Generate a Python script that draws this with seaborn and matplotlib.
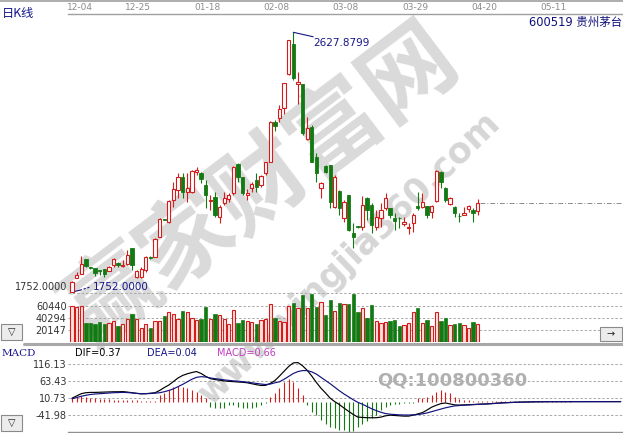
import numpy as np
import pandas as pd
import matplotlib
matplotlib.use("Agg")
import matplotlib.pyplot as plt
import seaborn as sns
from matplotlib.patches import Rectangle
from matplotlib.lines import Line2D

sns.set_theme(style="white")
plt.rcParams['font.family'] = ['DejaVu Sans', 'Noto Sans CJK SC']

# ---------------- data ----------------
opens = [1752, 1800, 1813, 1862, 1837, 1832, 1825, 1828, 1824, 1843,
         1849, 1840, 1846, 1899, 1804, 1801, 1826, 1871, 1871, 1938,
         1998, 1989, 2062, 2096, 2141, 2090, 2090, 2158, 2155, 2113,
         2059, 2071, 2006, 2051, 2065, 2085, 2184, 2139, 2080, 2102,
         2130, 2113, 2152, 2192, 2326, 2338, 2371, 2486, 2587, 2452,
         2452, 2268, 2310, 2208, 2102, 2178, 2180, 2040, 2093, 2000,
         2079, 1950, 1973, 1972, 2068, 2045, 1972, 2000, 2034, 2034,
         2000, 2001, 1980, 1969, 1984, 2042, 2040, 2042, 2023, 2059,
         2158, 2102, 2049, 2037, 2009, 2012, 2031, 2029, 2026]
highs = [1790, 1820, 1873, 1862, 1838, 1833, 1826, 1829, 1840, 1866,
         1854, 1860, 1894, 1899, 1826, 1835, 1873, 1872, 1933, 2000,
         1999, 2062, 2124, 2152, 2152, 2152, 2163, 2175, 2157, 2130,
         2079, 2090, 2045, 2090, 2085, 2177, 2186, 2140, 2100, 2124,
         2152, 2146, 2192, 2330, 2332, 2383, 2458, 2603, 2627.8799, 2495,
         2455, 2343, 2315, 2220, 2124, 2180, 2182, 2147, 2095, 2062,
         2080, 1984, 1975, 2076, 2074, 2051, 2029, 2051, 2085, 2035,
         2017, 2006, 2006, 1984, 2017, 2090, 2085, 2043, 2045, 2163,
         2160, 2107, 2074, 2042, 2017, 2040, 2045, 2034, 2065]
lows = [1752, 1798, 1812, 1837, 1830, 1806, 1809, 1804, 1822, 1837,
        1837, 1837, 1843, 1826, 1798, 1798, 1821, 1864, 1869, 1936,
        1995, 1985, 2040, 2068, 2068, 2057, 2085, 2147, 2118, 2034,
        2029, 2006, 1984, 2045, 2057, 2079, 2124, 2079, 2062, 2090,
        2090, 2107, 2147, 2190, 2295, 2326, 2351, 2484, 2467, 2385,
        2281, 2265, 2189, 2124, 2068, 2152, 2034, 2034, 2012, 1989,
        1958, 1899, 1969, 1961, 1995, 1950, 1961, 1972, 2029, 2000,
        1961, 1967, 1975, 1948, 1955, 2028, 2034, 2000, 2000, 2057,
        2102, 2057, 2045, 2006, 1989, 2011, 2023, 1989, 2012]
closes = [1787, 1809, 1846, 1840, 1832, 1817, 1823, 1813, 1837, 1862,
          1843, 1843, 1877, 1843, 1824, 1828, 1871, 1866, 1931, 1997,
          1996, 2060, 2098, 2139, 2090, 2102, 2160, 2163, 2132, 2079,
          2062, 2012, 2038, 2070, 2079, 2175, 2141, 2085, 2086, 2116,
          2107, 2144, 2189, 2327, 2313, 2368, 2456, 2602, 2473, 2459,
          2287, 2304, 2192, 2152, 2118, 2158, 2057, 2141, 2034, 2057,
          1961, 1936, 1971, 2045, 2029, 1978, 2006, 2029, 2068, 2012,
          1993, 2000, 1989, 1971, 2012, 2034, 2057, 2012, 2042, 2160,
          2124, 2062, 2070, 2019, 2007, 2017, 2042, 2020, 2051]
volumes = [60984, 58262, 60984, 32126, 32126, 30492, 33215, 30492, 32126, 34848,
           27225, 31037, 39204, 46827, 38660, 22869, 30492, 23958, 34848, 34848,
           44105, 51183, 47372, 38660, 52817, 50094, 40293, 37026, 38660, 58262,
           38660, 46827, 44649, 38660, 29403, 53906, 32126, 37026, 34848, 33759,
           29403, 36482, 38660, 63162, 40293, 34848, 33215, 60984, 64796, 57717,
           78408, 56628, 81131, 59351, 66429, 45738, 69696, 52817, 64796, 63162,
           63162, 81131, 50094, 56628, 40293, 62073, 34848, 32126, 33759, 35937,
           36482, 26681, 28314, 32126, 50094, 56628, 32126, 37571, 26681, 51183,
           35937, 40293, 28314, 29403, 32126, 28314, 22869, 33759, 30492]

dif = [11, 18, 25, 28, 29, 29, 29.5, 30, 30.5, 31,
       31, 31.5, 30, 28, 26, 24.5, 25, 26.5, 28, 35,
       44, 52, 63, 74, 82, 87, 91, 94, 88, 79,
       72, 69, 67, 65, 63.5, 62.5, 61.5, 60.5, 59, 56,
       53, 50.5, 51, 57, 66, 80, 95, 110, 121, 122,
       112, 98, 80, 60, 42, 27, 11, 0, -9, -20,
       -30, -40, -48, -49, -50, -50, -50, -48, -44, -42,
       -43, -44, -45, -45, -42, -38, -34, -26, -17, -11,
       -6, -4, -7, -10, -10.5, -10, -9.5, -8.8, -8, -7.4,
       -6.8, -5.8, -4.8, -3.8, -3, -2.4, -1.8, -1.4, -1, -0.7,
       -0.4, -0.2, 0, 0.1, 0.15, 0.2, 0.22, 0.25, 0.27, 0.3,
       0.31, 0.32, 0.33, 0.34, 0.35, 0.35, 0.36, 0.36, 0.37, 0.37]
dea = [9, 13, 17, 20, 22.5, 24, 25, 26, 27, 28,
       28.5, 29, 28.5, 27.5, 26, 25, 25, 25.5, 26.5, 28,
       31, 35, 40, 47, 54, 62, 70, 76, 78, 77,
       74, 72, 70, 68, 66.5, 65, 64, 62.5, 61, 59,
       57, 55, 53.5, 55, 59, 62, 70, 79, 88, 94,
       97, 97, 93, 86, 76, 66, 56, 45, 34, 24,
       15, 6, -2, -8, -15, -22, -28, -33, -37, -39,
       -40, -41, -41.5, -41.5, -41, -40, -38, -35, -31, -27,
       -23, -19, -16, -13, -12, -11, -10, -9.2, -8.4, -7.6,
       -7, -6.2, -5.2, -4.2, -3.4, -2.7, -2.1, -1.6, -1.2, -0.9,
       -0.6, -0.4, -0.2, -0.1, -0.05, 0, 0, 0, 0, 0.01,
       0.01, 0.02, 0.02, 0.02, 0.03, 0.03, 0.03, 0.04, 0.04, 0.04]
macd_hist = [12, 16, 17, 15, 13, 12, 9, 8, 8, 6,
             6, 6, 5, 5, 4, 3, 3, 2, 3, 21,
             28, 35, 45, 48, 46, 42, 36, 30, 21, 10,
             -15, -21, -21, -19, -10, -9, -16, -19, -21, -21,
             -16, -11, -5, 15, 28, 42, 60, 70, 62, 44,
             20, -10, -31, -42, -57, -68, -78, -83, -88, -89,
             -93, -91, -80, -68, -60, -50, -40, -26, -16, -10,
             -8, -7, -5, -4, -3, 10, 13, 16, 21, 31,
             36, 31, 26, 16, 7, 4, 4, 3.5, 3.5, 3,
             3, 3, 3, 2.5, 2.5, 2.5, 2, 2, 2, 2,
             1.5, 1.5, 1.5, 1, 1, 1, 1, 1, 1]

date_labels = ["12-04", "12-25", "01-18", "02-08", "03-08", "03-29", "04-20", "05-11"]
date_pos = [1.7, 14.4, 29.4, 44.4, 59.4, 74.4, 89.4, 104.4]
vol_ticks = [20147, 40294, 60440]
macd_ticks = [-41.98, 10.73, 63.43, 116.13]
macd_tick_labels = ["-41.98", "10.73", "63.43", "116.13"]
price_low_label = "1752.0000"
price_high_label = "2627.8799"
stock_title = "600519 贵州茅台"

# ---------------- styling ----------------
RED = "#d41c1c"
RED_FILL = "#fde2de"
GREEN = "#137a13"
GRID = "#a8a8a8"
NAVY = "#16168a"
W, H = 623, 433

def fx(p):
    return p / W

def fy(p):
    return 1 - p / H

fig = plt.figure(figsize=(W / 100, H / 100), dpi=100, facecolor="white")

# watermark (behind everything)
fig.text(fx(262), fy(185), "赢家财富网", rotation=37, fontsize=67, color="#dadada",
         ha="center", va="center", family=["Noto Sans CJK SC"], fontweight="bold", zorder=-10)
fig.text(fx(350), fy(258), "www.yingjia360.com", rotation=44, fontsize=25, color="#d6d6d6",
         ha="center", va="center", fontweight="bold", zorder=-10)

x0 = 68
ax_p = fig.add_axes([fx(x0), fy(293), fx(W - x0), (293 - 14) / H])
ax_v = fig.add_axes([fx(x0), fy(342), fx(W - x0), (342 - 293) / H])
ax_m = fig.add_axes([fx(x0), fy(432), fx(W - x0), (432 - 346) / H])
for ax in (ax_p, ax_v, ax_m):
    ax.set_facecolor("none")
    ax.set_xlim(-0.87, 119.5)
    for s in ax.spines.values():
        s.set_visible(False)
    ax.tick_params(axis="both", length=0)
    ax.set_xlabel("")
    ax.set_ylabel("")

idx = np.arange(len(closes))
up = np.array(closes) >= np.array(opens)

# ---------------- price panel ----------------
ppx = 3.3727
ax_p.set_ylim(1752 - 1 * ppx, 1752 + 278 * ppx)
ax_p.set_yticks([])
ax_p.xaxis.tick_top()
ax_p.set_xticks(date_pos)
ax_p.set_xticklabels(date_labels, fontsize=6.5, color="#8c8c8c")
ax_p.tick_params(axis="x", pad=1.5, length=0)
ax_p.spines["top"].set_visible(True)
ax_p.spines["top"].set_color("#a0a0a0")
ax_p.spines["top"].set_linewidth(1.0)

for i in idx:
    o, h, l, c = opens[i], highs[i], lows[i], closes[i]
    col = RED if up[i] else GREEN
    ax_p.vlines(i, l, h, color=col, linewidth=0.8, zorder=2)
    body = max(abs(c - o), 2.5)
    bottom = min(o, c)
    if up[i]:
        ax_p.bar(i, body, bottom=bottom, width=0.72, facecolor="white",
                 edgecolor=col, linewidth=0.8, zorder=3)
    else:
        ax_p.bar(i, body, bottom=bottom, width=0.72, facecolor=col,
                 edgecolor=col, linewidth=0.6, zorder=3)

# last-price dash-dot line
ax_p.hlines(closes[-1], idx[-1] + 0.5, 119.5, colors="#8a8a8a",
            linestyles=(0, (5, 2, 1, 2)), linewidth=0.7)

# high / low annotations
ih = int(np.argmax(highs))
ax_p.plot([ih, ih + 4.3], [highs[ih], highs[ih] - 15], color=NAVY, linewidth=0.8)
ax_p.text(ih + 4.4, highs[ih] - 36, price_high_label, ha="left", va="center",
          fontsize=7.5, color=NAVY)
il = int(np.argmin(lows))
ax_p.plot([il, il + 1.7], [lows[il], lows[il] + 6], color=NAVY, linewidth=0.8)
ax_p.plot([il + 1.7, il + 4.0], [lows[il] + 6, lows[il] + 17], color=NAVY,
          linewidth=0.8, linestyle=(0, (2, 1.5)))
ax_p.text(il + 4.6, lows[il] + 18, price_low_label, ha="left", va="center",
          fontsize=7.5, color=NAVY)
fig.text(fx(67), fy(287), price_low_label, ha="right", va="center",
         fontsize=7, color="#333333")

# ---------------- volume panel ----------------
vpx = 20147 / 12.0
ax_v.set_ylim(0, 49 * vpx)
for i in idx:
    if up[i]:
        ax_v.bar(i, volumes[i], width=0.72, facecolor=RED_FILL, edgecolor=RED,
                 linewidth=0.8, zorder=3)
    else:
        ax_v.bar(i, volumes[i], width=0.72, facecolor=GREEN, edgecolor=GREEN,
                 linewidth=0.5, zorder=3)
ax_v.set_yticks(vol_ticks)
ax_v.set_yticklabels([str(t) for t in vol_ticks], fontsize=7, color="#333333")
ax_v.tick_params(axis="y", pad=1)
ax_v.set_xticks([])
ax_v.yaxis.grid(True, linestyle=(0, (2.5, 2)), color=GRID, linewidth=0.7, zorder=0)
ax_v.set_axisbelow(True)

# ---------------- MACD panel ----------------
mpx = 0.3207
ax_m.set_ylim(-(432 - 401.7) / mpx, (401.7 - 346) / mpx)
mi = np.arange(len(macd_hist))
hcol = [RED if v >= 0 else GREEN for v in macd_hist]
ax_m.vlines(mi, 0, macd_hist, colors=hcol, linewidth=0.8, zorder=2)
df = pd.DataFrame({
    "i": np.concatenate([np.arange(len(dif)), np.arange(len(dea))]),
    "v": dif + dea,
    "s": ["DIF"] * len(dif) + ["DEA"] * len(dea),
})
sns.lineplot(data=df, x="i", y="v", hue="s", palette={"DIF": "black", "DEA": "#12127e"},
             estimator=None, legend=False, linewidth=0.85, ax=ax_m, zorder=4)
ax_m.set_xlabel("")
ax_m.set_ylabel("")
ax_m.set_xticks([])
ax_m.set_yticks(macd_ticks)
ax_m.set_yticklabels(macd_tick_labels, fontsize=7, color="#333333")
ax_m.tick_params(axis="y", pad=1)
ax_m.yaxis.grid(True, linestyle=(0, (2.5, 2)), color=GRID, linewidth=0.7, zorder=0)
ax_m.set_axisbelow(True)
ax_m.spines["bottom"].set_visible(True)
ax_m.spines["bottom"].set_color("#909090")
ax_m.spines["bottom"].set_linewidth(1.0)

# ---------------- frame lines ----------------
fig.add_artist(Line2D([0, 1], [fy(0.6), fy(0.6)], color="#a0a0a0", linewidth=1.2))
fig.add_artist(Line2D([fx(x0), 1], [fy(293.3), fy(293.3)], color=GRID,
                      linewidth=0.7, linestyle=(0, (2.5, 2))))
fig.add_artist(Line2D([fx(24), 1], [fy(343.5), fy(343.5)], color="#a8a8a8", linewidth=2.2))

# ---------------- texts ----------------
fig.text(fx(2), fy(14), "日K线", ha="left", va="center", fontsize=8.8, color=NAVY,
         family=["Noto Sans CJK SC", "DejaVu Sans"])
fig.text(fx(622), fy(22), stock_title, ha="right", va="center", fontsize=8.3,
         color="#10107a", family=["DejaVu Sans", "Noto Sans CJK SC"])
fig.text(fx(2), fy(353), "MACD", ha="left", va="center", fontsize=7.5, color=NAVY,
         family=["DejaVu Serif"])
fig.text(fx(75), fy(353), "DIF=%.2f" % dif[-1], ha="left", va="center", fontsize=7, color="black")
fig.text(fx(147), fy(353), "DEA=%.2f" % dea[-1], ha="left", va="center", fontsize=7, color=NAVY)
fig.text(fx(217), fy(353), "MACD=0.66", ha="left", va="center", fontsize=7, color="#c03cc0")
fig.text(fx(452), fy(381), "QQ:100800360", ha="center", va="center", fontsize=13,
         color="#b0b0b0", fontweight="bold", zorder=5)

# buttons
for (bx, by, bw, bh, sym) in [(1, 324, 21, 16, "▽"), (1, 415, 21, 16, "▽"), (600, 327, 22, 14, "→")]:
    fig.add_artist(Rectangle((fx(bx), fy(by + bh)), bw / W, bh / H, transform=fig.transFigure,
                             facecolor="#ececec", edgecolor="#8a8a8a", linewidth=0.8))
    fig.text(fx(bx + bw / 2), fy(by + bh / 2), sym, ha="center", va="center",
             fontsize=7, color="#222222")

fig.savefig("out.png", dpi=100, facecolor="white")
